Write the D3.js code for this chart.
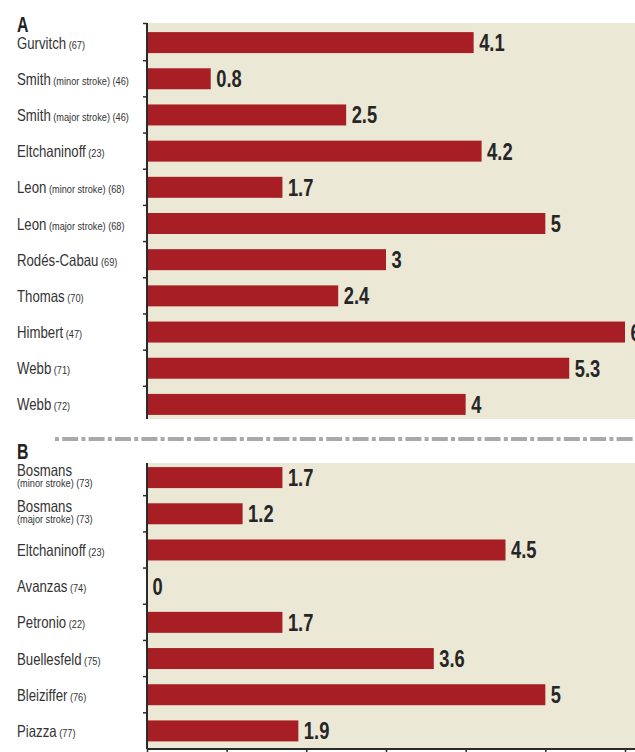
<!DOCTYPE html>
<html>
<head>
<meta charset="utf-8">
<script src="https://cdn.jsdelivr.net/npm/d3@7"></script>
<style>
  body { margin: 0; background: #fff; }
  text { font-family: "Liberation Sans", Arial, sans-serif; }
</style>
</head>
<body>
<div id="chart"></div>
<script>
// panel A
const aNames = ["Gurvitch", "Smith", "Smith", "Eltchaninoff", "Leon", "Leon", "Rodés-Cabau", "Thomas", "Himbert", "Webb", "Webb"];
const aNotes = ["", "(minor stroke)", "(major stroke)", "", "(minor stroke)", "(major stroke)", "", "", "", "", ""];
const aRefs = ["(67)", "(46)", "(46)", "(23)", "(68)", "(68)", "(69)", "(70)", "(47)", "(71)", "(72)"];
const aValues = [4.1, 0.8, 2.5, 4.2, 1.7, 5, 3, 2.4, 6, 5.3, 4];

// panel B
const bNames = ["Bosmans", "Bosmans", "Eltchaninoff", "Avanzas", "Petronio", "Buellesfeld", "Bleiziffer", "Piazza"];
const bNotes = ["(minor stroke)", "(major stroke)", "", "", "", "", "", ""];
const bRefs = ["(73)", "(73)", "(23)", "(74)", "(22)", "(75)", "(76)", "(77)"];
const bValues = [1.7, 1.2, 4.5, 0, 1.7, 3.6, 5, 1.9];

const xTicks = [0, 1, 2, 3, 4, 5, 6];

const width = 635, height = 752;
const barColor = "#a71f24";
const bgColor = "#ece8d6";
const axisColor = "#2b2b2b";
// no narrow font installed, so squeeze Liberation Sans horizontally
const narrow = 0.8;

const svg = d3.select("#chart").append("svg")
    .attr("width", width)
    .attr("height", height);

const x = d3.scaleLinear().domain([0, 6]).range([147, 625]);

function toRows(names, notes, refs, values) {
    return names.map(function(n, i) {
        return { key: i, name: n, note: notes[i], ref: refs[i], value: values[i] };
    });
}

function place(px, py, s) {
    return "translate(" + px + "," + py + ") scale(" + s + ",1)";
}

function panel(rows, bandTop, bandBottom, bgTop, bgBottom, wrapNotes) {
    const y = d3.scaleBand()
        .domain(rows.map(d => d.key))
        .range([bandTop, bandBottom])
        .paddingInner(0.42)
        .paddingOuter(0.21);

    const g = svg.append("g");

    g.append("rect")
        .attr("x", x(0))
        .attr("y", bgTop)
        .attr("width", width - x(0))
        .attr("height", bgBottom - bgTop)
        .attr("fill", bgColor);

    g.selectAll(".bar")
        .data(rows)
        .enter()
        .append("rect")
        .attr("class", "bar")
        .attr("x", x(0))
        .attr("y", d => y(d.key))
        .attr("width", d => x(d.value) - x(0))
        .attr("height", y.bandwidth())
        .attr("fill", barColor);

    g.selectAll(".val")
        .data(rows)
        .enter()
        .append("text")
        .attr("class", "val")
        .attr("transform", d => place(x(d.value) + 5.5, y(d.key) + y.bandwidth() / 2 + 8.5, 0.78))
        .attr("font-size", "23.5px")
        .attr("font-weight", "bold")
        .attr("fill", "#262626")
        .text(d => d.value);

    // category labels
    const lab = g.selectAll(".lab")
        .data(rows)
        .enter()
        .append("text")
        .attr("class", "lab")
        .attr("fill", "#333")
        .attr("transform", function(d) {
            const c = y(d.key) + y.bandwidth() / 2;
            return place(17, (wrapNotes && d.note) ? c - 2 : c + 6, narrow);
        });

    lab.each(function(d) {
        const t = d3.select(this);
        t.append("tspan").attr("font-size", "16.5px").text(d.name);
        if (wrapNotes && d.note) {
            t.append("tspan")
                .attr("x", 0)
                .attr("dy", 11.5)
                .attr("font-size", "11.5px")
                .text(d.note + " " + d.ref);
        } else {
            t.append("tspan")
                .attr("font-size", "11.5px")
                .text(" " + (d.note ? d.note + " " : "") + d.ref);
        }
    });

    // left axis with ticks at band boundaries
    g.append("line")
        .attr("x1", x(0)).attr("x2", x(0))
        .attr("y1", bgTop).attr("y2", bgBottom)
        .attr("stroke", axisColor)
        .attr("stroke-width", 2);

    const bounds = rows.slice(1).map(d => y(d.key) - y.step() * y.paddingInner() / 2);
    g.selectAll(".ytick")
        .data(bounds)
        .enter()
        .append("line")
        .attr("class", "ytick")
        .attr("x1", x(0) - 4).attr("x2", x(0))
        .attr("y1", d => d).attr("y2", d => d)
        .attr("stroke", axisColor)
        .attr("stroke-width", 1.5);

    return g;
}

const rowsA = toRows(aNames, aNotes, aRefs, aValues);
const rowsB = toRows(bNames, bNotes, bRefs, bValues);

const gA = panel(rowsA, 24.5, 422.5, 23, 419, false);
gA.append("line")
    .attr("x1", x(0) - 4).attr("x2", x(0))
    .attr("y1", 23.5).attr("y2", 23.5)
    .attr("stroke", axisColor).attr("stroke-width", 1.5);

const gB = panel(rowsB, 459.5, 749, 463, 749, true);

// bottom axis
const xAxis = d3.axisBottom(x).tickValues(xTicks).tickSize(4).tickFormat("");
const ax = svg.append("g")
    .attr("transform", "translate(0,749)")
    .call(xAxis);
ax.select(".domain").attr("d", "M" + x(0) + ",0H" + width)
    .attr("stroke", axisColor).attr("stroke-width", 2);
ax.selectAll(".tick line").attr("stroke", axisColor).attr("stroke-width", 1.5);

// panel letters
svg.append("text").attr("transform", place(17, 32, 0.72))
    .attr("font-size", "22px").attr("font-weight", "bold").attr("fill", "#222")
    .text("A");
svg.append("text").attr("transform", place(17, 459, 0.72))
    .attr("font-size", "22px").attr("font-weight", "bold").attr("fill", "#222")
    .text("B");

// separator
svg.append("line")
    .attr("x1", 55).attr("x2", width)
    .attr("y1", 439).attr("y2", 439)
    .attr("stroke", "#a9a9ab")
    .attr("stroke-width", 4)
    .attr("stroke-dasharray", "4,3.2,16,3.2");
</script>
</body>
</html>
